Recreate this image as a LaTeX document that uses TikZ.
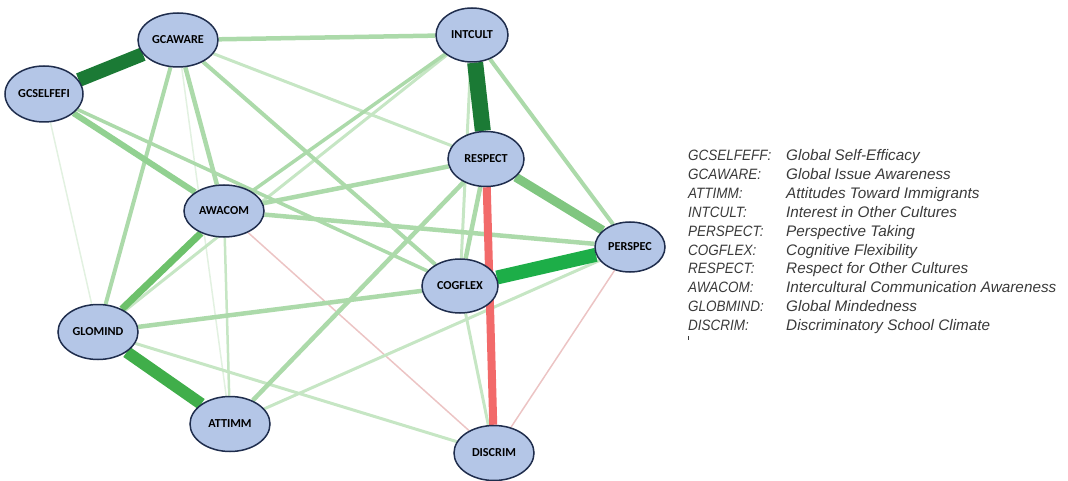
\documentclass[tikz,border=0pt]{standalone}
\usepackage{fontspec}
\setmainfont{Liberation Sans}
\newfontfamily\nodefont{Carlito}
\newfontfamily\keyfont[FakeStretch=0.9]{Liberation Sans}
\usetikzlibrary{backgrounds,shapes.geometric}
\definecolor{nfill}{HTML}{B4C6E7}
\definecolor{nline}{HTML}{1F2D4D}
\definecolor{darkg}{HTML}{1B7A35}
\definecolor{brightg}{HTML}{1DAE48}
\definecolor{midg}{HTML}{40AE4A}
\definecolor{redE}{HTML}{F26A6A}
\definecolor{persg}{HTML}{80C680}
\definecolor{awg}{HTML}{6DC16B}
\definecolor{selfg}{HTML}{92D191}
\definecolor{lg}{HTML}{ACDAAA}
\definecolor{llg}{HTML}{C6E6C4}
\definecolor{vfg}{HTML}{E2F1E1}
\definecolor{fred}{HTML}{ECC4C4}
\definecolor{legtext}{HTML}{3A3A3A}
\tikzset{
  var/.style={ellipse, draw=nline, fill=nfill, line width=1.5pt, inner sep=0pt,
    minimum width=80pt, minimum height=54pt, font=\nodefont\bfseries\fontsize{12.2}{14}\selectfont, text=black},
  legkey/.style={anchor=base west, inner sep=0pt, font=\keyfont\itshape\fontsize{15}{17}\selectfont, text=legtext},
  legdesc/.style={anchor=base west, inner sep=0pt, font=\itshape\fontsize{15.3}{17}\selectfont, text=legtext},
}
\begin{document}
\begin{tikzpicture}[x=1pt,y=-1pt]
\useasboundingbox (0,0) rectangle (1068,481);
% nodes
\node[var, minimum width=78pt, minimum height=56pt] (gcself) at (44,94) {GCSELFEFI};
\node[var] (gcaware) at (178,40) {GCAWARE};
\node[var, minimum width=72pt] (intcult) at (472,35) {INTCULT};
\node[var, minimum width=76pt, minimum height=55pt] (respect) at (486,159) {RESPECT};
\node[var, minimum width=70pt, minimum height=50pt] (perspec) at (630,247) {PERSPEC};
\node[var, minimum width=76pt] (cogflex) at (460,286) {COGFLEX};
\node[var, minimum height=55pt] (discrim) at (494,453) {DISCRIM};
\node[var, minimum height=52pt] (awacom) at (224,211) {AWACOM};
\node[var, minimum height=55pt] (glomind) at (98,332) {GLOMIND};
\node[var, minimum height=55pt] (attimm) at (230,424) {ATTIMM};
% edges
\begin{scope}[on background layer]
% very faint
\draw[vfg, line width=1.5pt] (gcself) -- (glomind);
\draw[vfg, line width=1.5pt] (gcaware) -- (attimm);
\draw[fred, line width=1.5pt] (awacom) -- (discrim);
\draw[fred, line width=1.5pt] (perspec) -- (discrim);
% light thin
\draw[llg, line width=2.5pt] (awacom) -- (attimm);
\draw[llg, line width=3pt] (gcaware) -- (respect);
\draw[llg, line width=3pt] (glomind) -- (intcult);
\draw[llg, line width=3pt] (attimm) -- (perspec);
\draw[llg, line width=3pt] (cogflex) -- (discrim);
\draw[llg, line width=3pt] (glomind) -- (discrim);
\draw[llg, line width=3pt] (intcult) -- (cogflex);
% light
\draw[lg, line width=4.5pt] (gcaware) -- (intcult);
\draw[lg, line width=4.5pt] (gcaware) -- (awacom);
\draw[lg, line width=4pt] (gcaware) -- (glomind);
\draw[lg, line width=4pt] (gcaware) -- (cogflex);
\draw[lg, line width=3.5pt] (gcself) -- (cogflex);
\draw[lg, line width=4.5pt] (awacom) -- (respect);
\draw[lg, line width=4.5pt] (awacom) -- (perspec);
\draw[lg, line width=3.5pt] (awacom) -- (intcult);
\draw[lg, line width=4pt] (intcult) -- (perspec);
\draw[lg, line width=4.5pt] (respect) -- (cogflex);
\draw[lg, line width=4.5pt] (respect) -- (attimm);
\draw[lg, line width=4.5pt] (glomind) -- (cogflex);
% stronger
\draw[selfg, line width=6pt] (gcself) -- (awacom);
\draw[awg, line width=7pt] (awacom) -- (glomind);
\draw[persg, line width=9pt] (respect) -- (perspec);
\draw[redE, line width=8pt] (respect) -- (discrim);
\draw[midg, line width=12pt] (glomind) -- (attimm);
\draw[brightg, line width=14pt] (cogflex) -- (perspec);
\draw[darkg, line width=14pt] (gcself) -- (gcaware);
\draw[darkg, line width=16pt] (intcult) -- (respect);
\end{scope}
% legend
\node[legkey] (k1) at (688,160.5) {GCSELFEFF:};
\node[legdesc] (d1) at (786,160.5) {Global Self-Efficacy};
\node[legkey] (k2) at (688,179.4) {GCAWARE:};
\node[legdesc] (d2) at (786,179.4) {Global Issue Awareness};
\node[legkey] (k3) at (688,198.3) {ATTIMM:};
\node[legdesc] (d3) at (786,198.3) {Attitudes Toward Immigrants};
\node[legkey] (k4) at (688,217.2) {INTCULT:};
\node[legdesc] (d4) at (786,217.2) {Interest in Other Cultures};
\node[legkey] (k5) at (688,236.1) {PERSPECT:};
\node[legdesc] (d5) at (786,236.1) {Perspective Taking};
\node[legkey] (k6) at (688,255) {COGFLEX:};
\node[legdesc] (d6) at (786,255) {Cognitive Flexibility};
\node[legkey] (k7) at (688,273.9) {RESPECT:};
\node[legdesc] (d7) at (786,273.9) {Respect for Other Cultures};
\node[legkey] (k8) at (688,292.8) {AWACOM:};
\node[legdesc] (d8) at (786,292.8) {Intercultural Communication Awareness};
\node[legkey] (k9) at (688,311.7) {GLOBMIND:};
\node[legdesc] (d9) at (786,311.7) {Global Mindedness};
\node[legkey] (k10) at (688,330.6) {DISCRIM:};
\node[legdesc] (d10) at (786,330.6) {Discriminatory School Climate};
\coordinate (tick1) at (688,336);
\coordinate (tick2) at (688,340);
\draw[legtext, line width=0.8pt] (tick1) -- (tick2);
\end{tikzpicture}
\end{document}
